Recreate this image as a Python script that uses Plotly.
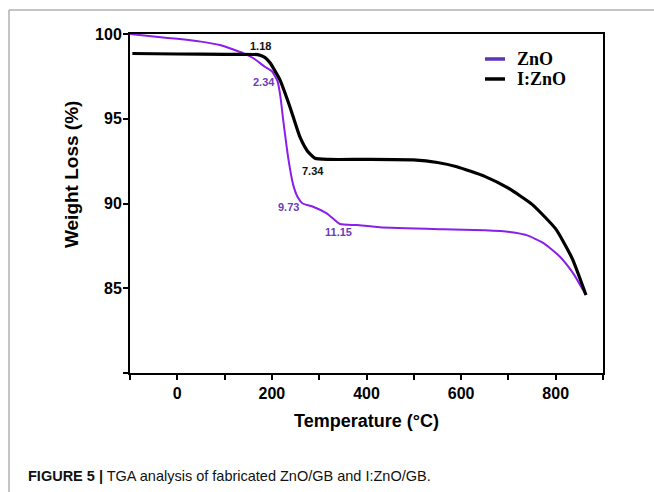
import plotly.graph_objects as go

# ---- data ----
zno_temp = [-100, -40, 0, 50, 90, 140, 161, 185, 200, 212, 218, 224, 235, 245, 255, 265, 287, 316, 344, 379, 428, 562, 650, 703, 740, 775, 809, 837, 864]
zno_weight = [100.0, 99.82, 99.72, 99.55, 99.35, 98.86, 98.57, 98.07, 97.8, 97.2, 96.3, 94.9, 92.6, 91.1, 90.35, 90.0, 89.81, 89.42, 88.79, 88.73, 88.6, 88.48, 88.42, 88.32, 88.12, 87.65, 86.86, 85.88, 84.6]

izno_temp = [-95, 0, 100, 170, 185, 196, 217, 238, 259, 275, 291, 320, 400, 499, 550, 591, 650, 700, 750, 800, 835, 864]
izno_weight = [98.85, 98.82, 98.8, 98.78, 98.62, 98.3, 97.29, 95.71, 93.94, 93.1, 92.67, 92.6, 92.6, 92.57, 92.42, 92.17, 91.6, 90.9, 89.95, 88.5, 86.75, 84.6]

label_text = ["1.18", "2.34", "7.34", "9.73", "11.15"]
label_x = [175, 183, 287, 236, 340]
label_y = [99.29, 97.17, 91.92, 89.79, 88.32]
label_series = ["I:ZnO", "ZnO", "I:ZnO", "ZnO", "ZnO"]

x_tickvals = [-100, 0, 100, 200, 300, 400, 500, 600, 700, 800, 900]
x_ticktext = ["", "0", "", "200", "", "400", "", "600", "", "800", ""]
y_tickvals = [80, 85, 90, 95, 100]
y_ticktext = ["", "85", "90", "95", "100"]

ZNO_COLOR = "#8A1EEA"
ZNO_TEXT = "#6A3DB8"
ZNO_LEGEND = "#5B35B5"
IZNO_COLOR = "#000000"

fig = go.Figure()
fig.add_trace(go.Scatter(x=zno_temp, y=zno_weight, mode="lines", name="ZnO",
                         line=dict(color=ZNO_COLOR, width=2, shape="spline", smoothing=0.5),
                         showlegend=False))
fig.add_trace(go.Scatter(x=izno_temp, y=izno_weight, mode="lines", name="I:ZnO",
                         line=dict(color=IZNO_COLOR, width=3.2, shape="spline", smoothing=0.5),
                         showlegend=False))

sans = "Liberation Sans, Arial, sans-serif"
serif = "Liberation Serif, Times New Roman, serif"

annotations = []
for t, x, y, s in zip(label_text, label_x, label_y, label_series):
    annotations.append(dict(x=x, y=y, xref="x", yref="y", text=t, showarrow=False,
                            font=dict(family=sans, size=11, weight="bold",
                                      color=ZNO_TEXT if s == "ZnO" else "#111111")))

# custom legend
leg_items = [("ZnO", ZNO_LEGEND, 0.9263), ("I:ZnO", "#000000", 0.8673)]
shapes = []
for name, col, yy in leg_items:
    shapes.append(dict(type="line", xref="paper", yref="paper", x0=0.7505, x1=0.7928,
                       y0=yy, y1=yy, line=dict(color=col, width=3.5)))
    annotations.append(dict(x=0.814, y=yy, xref="paper", yref="paper", text=name,
                            showarrow=False, xanchor="left", yanchor="middle",
                            font=dict(family=serif, size=18, weight="bold", color="#000")))

# axis titles
annotations.append(dict(x=0.5, y=-0.1416, xref="paper", yref="paper", text="Temperature (°C)",
                        showarrow=False, xanchor="center", yanchor="middle",
                        font=dict(family=sans, size=18, weight="bold", color="#000")))
annotations.append(dict(x=-0.1247, y=0.584, xref="paper", yref="paper", text="Weight Loss (%)",
                        showarrow=False, textangle=-90, xanchor="center", yanchor="middle",
                        font=dict(family=sans, size=19, weight="bold", color="#000")))
# caption
annotations.append(dict(x=-0.2199, y=-0.3038, xref="paper", yref="paper",
                        text="<b>FIGURE 5 |</b> TGA analysis of fabricated ZnO/GB and I:ZnO/GB.",
                        showarrow=False, xanchor="left", yanchor="middle",
                        font=dict(family=sans, size=14.5, color="#111")))

# frame border (grey)
shapes.append(dict(type="line", xref="paper", yref="paper", x0=-0.2558, x1=1.11,
                   y0=1.0708, y1=1.0708, line=dict(color="#8a8a8a", width=1)))
shapes.append(dict(type="line", xref="paper", yref="paper", x0=-0.2558, x1=-0.2558,
                   y0=1.0708, y1=-0.36, line=dict(color="#8a8a8a", width=1)))

fig.update_layout(
    width=654, height=492,
    margin=dict(l=130, r=51, t=34, b=119),
    paper_bgcolor="white", plot_bgcolor="white",
    annotations=annotations, shapes=shapes,
    showlegend=False,
)
fig.update_xaxes(range=[-100, 900], tickmode="array", tickvals=x_tickvals, ticktext=x_ticktext,
                 ticks="outside", ticklen=5, tickwidth=2, tickcolor="#000",
                 showline=True, linecolor="#000", linewidth=2, mirror=True,
                 showgrid=False, zeroline=False,
                 tickfont=dict(family=sans, size=16, weight="bold", color="#000"))
fig.update_yaxes(range=[80, 100], tickmode="array", tickvals=y_tickvals, ticktext=y_ticktext,
                 ticks="outside", ticklen=5, tickwidth=2, tickcolor="#000",
                 showline=True, linecolor="#000", linewidth=2, mirror=True,
                 showgrid=False, zeroline=False, ticklabelstandoff=-2,
                 tickfont=dict(family=sans, size=16, weight="bold", color="#000"))

fig.write_html("out.html")
